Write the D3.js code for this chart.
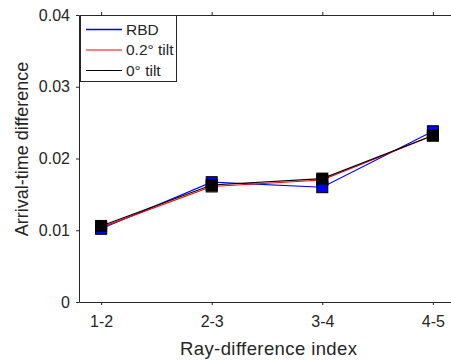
<!DOCTYPE html>
<html>
<head>
<meta charset="utf-8">
<script src="https://cdn.jsdelivr.net/npm/d3@7"></script>
<style>
  html, body { margin: 0; padding: 0; background: #fff; }
  svg { display: block; font-family: "Liberation Sans", Arial, sans-serif; }
</style>
</head>
<body>
<svg id="chart" width="451" height="361"></svg>
<script>
// Pairs of rays compared on the x axis
const categories = ["1-2", "2-3", "3-4", "4-5"];

// Arrival-time differences for each model
const rbd      = [0.0102, 0.0167, 0.0160, 0.0238];
const tilt02   = [0.0104, 0.0161, 0.0170, 0.0232];
const tilt0    = [0.0106, 0.0163, 0.0172, 0.0232];

const yTicks = [0, 0.01, 0.02, 0.03, 0.04];

const series = [
  { name: "RBD",            values: rbd,    color: "#0000ff" },
  { name: "0.2\u00b0 tilt", values: tilt02, color: "#ff0000" },
  { name: "0\u00b0 tilt",   values: tilt0,  color: "#000000" }
];

const svg = d3.select("#chart");
const plotLeft = 79, plotTop = 15, plotRight = 455, plotBottom = 302;
const axisColor = "#262626";

const x = d3.scaleLinear().domain([0.8, 4.2]).range([plotLeft, plotRight]);
const y = d3.scaleLinear().domain([0, 0.04]).range([plotBottom, plotTop]);

// Bottom axis
const xAxis = svg.append("g").attr("transform", `translate(0,${plotBottom})`)
  .call(d3.axisBottom(x).tickValues([1, 2, 3, 4])
        .tickFormat((d) => categories[d - 1]).tickSizeInner(3).tickSizeOuter(0).tickPadding(11));
// Top axis (ticks only)
const xTop = svg.append("g").attr("transform", `translate(0,${plotTop})`)
  .call(d3.axisTop(x).tickValues([1, 2, 3, 4]).tickFormat("").tickSizeInner(3).tickSizeOuter(0));
// Left axis
const yAxis = svg.append("g").attr("transform", `translate(${plotLeft},0)`)
  .call(d3.axisLeft(y).tickValues(yTicks)
        .tickFormat(d => d === 0 ? "0" : d3.format(".2f")(d))
        .tickSizeInner(3).tickSizeOuter(0).tickPadding(6));

[xAxis, xTop, yAxis].forEach(g => {
  g.select(".domain").attr("stroke", axisColor).attr("stroke-width", 1);
  g.selectAll(".tick line").attr("stroke", axisColor);
  g.selectAll(".tick text").attr("fill", axisColor).attr("font-size", 16)
    .attr("font-family", "Liberation Sans, Arial, sans-serif");
});

// Axis titles
svg.append("text").attr("x", 268.5).attr("y", 355)
  .attr("text-anchor", "middle").attr("font-size", 18.5).attr("fill", axisColor)
  .attr("textLength", 177).attr("lengthAdjust", "spacing")
  .text("Ray-difference index");
svg.append("text").attr("transform", `translate(28,149) rotate(-90)`)
  .attr("text-anchor", "middle").attr("font-size", 18).attr("fill", axisColor)
  .text("Arrival-time difference");

// Lines
const line = d3.line().x((d, i) => x(i + 1)).y(d => y(d));
series.forEach(s => {
  svg.append("path").datum(s.values).attr("d", line)
    .attr("fill", "none").attr("stroke", s.color).attr("stroke-width", 1.1);
});

// Square markers: red underneath, then blue, then black on top
const ms = 11;
[series[1], series[0], series[2]].forEach(s => {
  svg.append("g").selectAll("rect").data(s.values).join("rect")
    .attr("x", (d, i) => x(i + 1) - ms / 2).attr("y", d => y(d) - ms / 2)
    .attr("width", ms).attr("height", ms)
    .attr("fill", s.color).attr("stroke", "#000").attr("stroke-width", 1);
});

// Legend
const lg = svg.append("g");
lg.append("rect").attr("x", 80.5).attr("y", 15.5).attr("width", 96).attr("height", 66)
  .attr("fill", "#fff").attr("stroke", axisColor).attr("stroke-width", 1);
series.forEach((s, i) => {
  const ly = 29.5 + i * 20.5;
  lg.append("line").attr("x1", 86).attr("x2", 122).attr("y1", ly).attr("y2", ly)
    .attr("stroke", s.color).attr("stroke-width", i === 0 ? 1.6 : 1.2);
  lg.append("text").attr("x", 126).attr("y", ly).attr("dy", "0.35em")
    .attr("font-size", 15.5).attr("fill", axisColor).text(s.name);
});
</script>
</body>
</html>
